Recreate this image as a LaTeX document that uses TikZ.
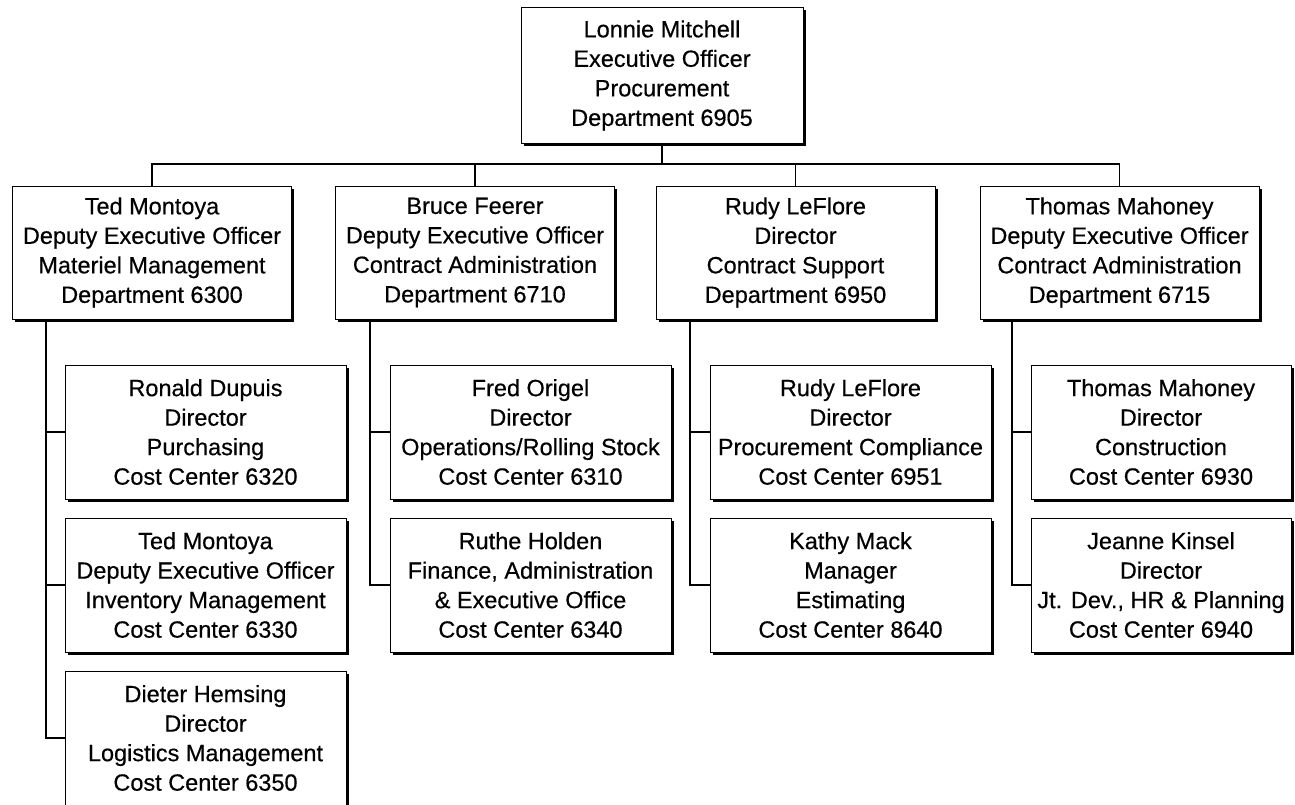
\documentclass[tikz,border=0pt]{standalone}
\usepackage{fontspec}
\setmainfont{Liberation Sans}
\newfontfamily\scanfont{Liberation Sans}[FakeBold=0.4]
\usetikzlibrary{shadows}
\begin{document}
\begin{tikzpicture}[x=1pt,y=-1pt,
  box/.style={draw=black, line width=0.9pt, fill=white, align=center, inner sep=0pt,
    font=\scanfont\fontsize{23.5}{29.5}\selectfont,
    general shadow={fill=black, shadow xshift=2.8pt, shadow yshift=-2.8pt}},
  topbox/.style={box, minimum width=282pt, minimum height=136pt},
  midbox/.style={box, minimum width=279pt, minimum height=133pt},
  subbox/.style={box, minimum width=281pt, minimum height=134pt},
  link/.style={draw=black, line width=1.5pt}]
\useasboundingbox (0,0) rectangle (1295,804);
\fill[white] (0,0) rectangle (1295,804);

\node[topbox] (top) at (662,75.5) {Lonnie Mitchell\\Executive Officer\\Procurement\\Department 6905};

\node[midbox] (ted) at (152,252.5) {Ted Montoya\\Deputy Executive Officer\\Materiel Management\\Department 6300};
\node[midbox] (bruce) at (475,252.5) {Bruce Feerer\\Deputy Executive Officer\\Contract Administration\\Department 6710};
\node[midbox] (rudy) at (795.5,252.5) {Rudy LeFlore\\Director\\Contract Support\\Department 6950};
\node[midbox] (thomas) at (1119.5,252.5) {Thomas Mahoney\\Deputy Executive Officer\\Contract Administration\\Department 6715};

\node[subbox] (ronald) at (205.5,432) {Ronald Dupuis\\Director\\Purchasing\\Cost Center 6320};
\node[subbox] (ted2) at (205.5,585) {Ted Montoya\\Deputy Executive Officer\\Inventory Management\\Cost Center 6330};
\node[subbox] (dieter) at (205.5,738) {Dieter Hemsing\\Director\\Logistics Management\\Cost Center 6350};

\node[subbox] (fred) at (530.5,432) {Fred Origel\\Director\\Operations/Rolling Stock\\Cost Center 6310};
\node[subbox] (ruthe) at (530.5,585) {Ruthe Holden\\Finance, Administration\\\& Executive Office\\Cost Center 6340};

\node[subbox] (rudy2) at (850.5,432) {Rudy LeFlore\\Director\\Procurement Compliance\\Cost Center 6951};
\node[subbox] (kathy) at (850.5,585) {Kathy Mack\\Manager\\Estimating\\Cost Center 8640};

\node[subbox, minimum width=260pt] (thomas2) at (1161,432) {Thomas Mahoney\\Director\\Construction\\Cost Center 6930};
\node[subbox, minimum width=260pt] (jeanne) at (1161,585) {Jeanne Kinsel\\Director\\Jt. Dev., HR \& Planning\\Cost Center 6940};

% top level connectors
\coordinate (bus) at (0,164);
\draw[link] (top.south) -- (top.south |- bus);
\draw[link] (ted.north) -- (ted.north |- bus) -- (thomas.north |- bus) -- (thomas.north);
\draw[link] (bruce.north) -- (bruce.north |- bus);
\draw[link] (rudy.north) -- (rudy.north |- bus);

% sub connectors
\coordinate (tedd) at ([xshift=34pt]ted.south west);
\coordinate (bruced) at ([xshift=35pt]bruce.south west);
\coordinate (rudyd) at ([xshift=34.5pt]rudy.south west);
\coordinate (thomasd) at ([xshift=32.5pt]thomas.south west);

\draw[link] (tedd) |- (dieter.west);
\draw[link] (tedd |- ronald.west) -- (ronald.west);
\draw[link] (tedd |- ted2.west) -- (ted2.west);

\draw[link] (bruced) |- (ruthe.west);
\draw[link] (bruced |- fred.west) -- (fred.west);

\draw[link] (rudyd) |- (kathy.west);
\draw[link] (rudyd |- rudy2.west) -- (rudy2.west);

\draw[link] (thomasd) |- (jeanne.west);
\draw[link] (thomasd |- thomas2.west) -- (thomas2.west);
\end{tikzpicture}
\end{document}
